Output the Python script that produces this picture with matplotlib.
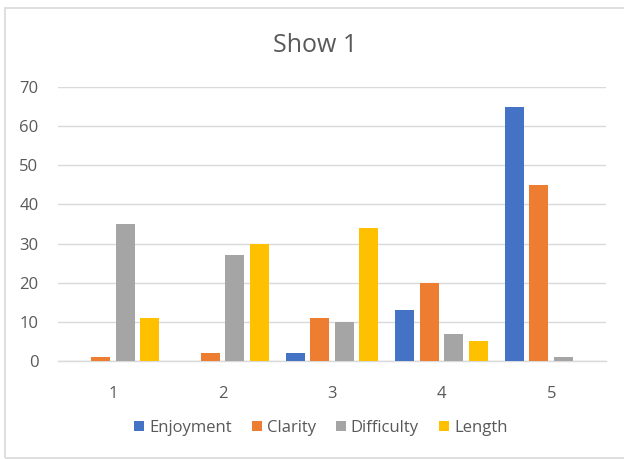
import matplotlib
matplotlib.use("Agg")
import matplotlib.pyplot as plt
from matplotlib.patches import Rectangle
import numpy as np

categories = ["1", "2", "3", "4", "5"]
series_names = ["Enjoyment", "Clarity", "Difficulty", "Length"]
enjoyment = [0, 0, 2, 13, 65]
clarity = [1, 2, 11, 20, 45]
difficulty = [35, 27, 10, 7, 1]
length = [11, 30, 34, 5, 0]
colors = ["#4472C4", "#ED7D31", "#A5A5A5", "#FFC000"]
text_color = "#595959"

plt.rcParams["font.family"] = ["Open Sans", "DejaVu Sans"]

fig = plt.figure(figsize=(6.24, 4.59), dpi=100)
ax = fig.add_axes([58 / 624, 1 - 361 / 459, 548 / 624, 274 / 459])

# chart border
fig.patches.append(Rectangle((5 / 624, 1 / 459), 1, 1 - 9 / 459, transform=fig.transFigure,
                             fill=False, edgecolor="#D9D9D9", linewidth=1.2))

x = np.arange(len(categories))
step = 0.224
width = 0.174
for i, (name, vals) in enumerate(zip(series_names, [enjoyment, clarity, difficulty, length])):
    ax.bar(x + (i - 1.5) * step, vals, width, color=colors[i], label=name, zorder=3)

ax.set_xlim(-0.5, 4.5)
ax.set_ylim(0, 70)
ax.set_yticks(range(0, 71, 10))
ax.set_xticks(x)
ax.set_xticklabels(categories)
ax.grid(axis="y", color="#D9D9D9", linewidth=1, zorder=0)
for s in ["top", "right", "left"]:
    ax.spines[s].set_visible(False)
ax.spines["bottom"].set_color("#D9D9D9")
ax.spines["bottom"].set_linewidth(1)
ax.tick_params(length=0, labelsize=12, colors=text_color)
ax.tick_params(axis="x", pad=18)
ax.tick_params(axis="y", pad=14)

fig.text(0.505, 1 - 45 / 459, "Show 1", ha="center", va="center", fontsize=18, color=text_color)

leg = fig.legend(loc="center", bbox_to_anchor=(0.514, 1 - 428 / 459), ncol=4, frameon=False,
                 fontsize=12, handlelength=0.6, handleheight=0.6, handletextpad=0.3,
                 columnspacing=1.2)
for t in leg.get_texts():
    t.set_color(text_color)

fig.savefig("out.png", dpi=100)
